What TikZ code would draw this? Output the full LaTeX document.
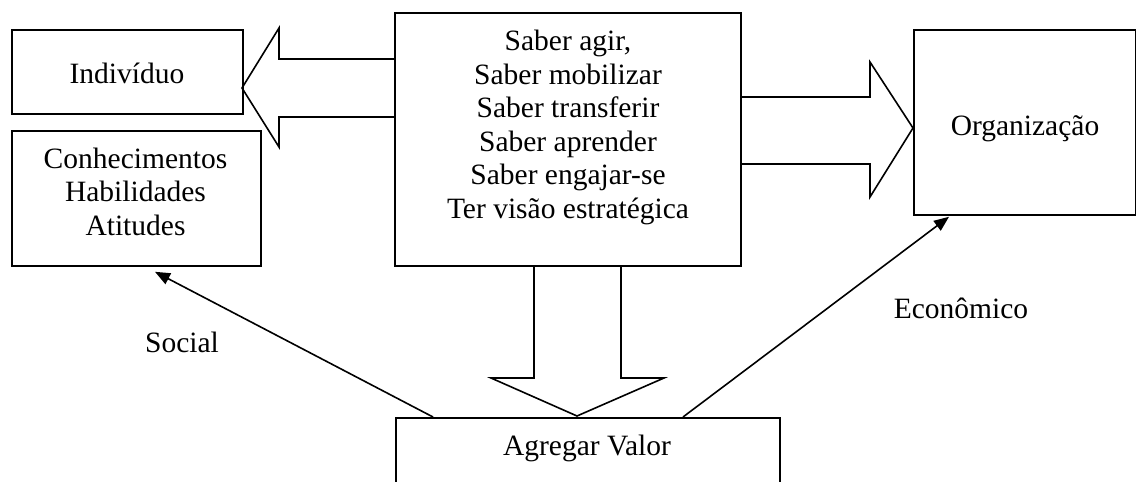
\documentclass[tikz,border=0pt]{standalone}
\usepackage{fontspec}
\setmainfont{Liberation Serif}
\usetikzlibrary{arrows.meta,calc}
\begin{document}
\begin{tikzpicture}[x=1pt,y=-1pt,
  box/.style={draw,line width=1.8pt,rectangle,inner sep=0pt,anchor=north west},
  txt/.style={inner sep=0pt,align=center,font=\fontsize{29.5pt}{33.5pt}\selectfont},
  blockarrow/.style={draw,line width=1.6pt,line join=miter},
  valarrow/.style={line width=1.6pt,-{Triangle[length=15pt,width=12pt]}}]
\useasboundingbox (0,0) rectangle (1136,482);
\clip (0,0) rectangle (1136,482);
% boxes
\node[box,minimum width=231pt,minimum height=84pt] (ind) at (11,29) {};
\node[box,minimum width=249pt,minimum height=135pt] (kha) at (11,130) {};
\node[box,minimum width=346pt,minimum height=253pt] (mid) at (394,12) {};
\node[box,minimum width=222pt,minimum height=185pt] (org) at (913,29) {};
\node[box,minimum width=384pt,minimum height=120pt] (agr) at (395,417) {};
% texts (base anchor = baseline of last line)
\node[txt,anchor=base] (tind) at (127,83) {Indivíduo};
\node[txt,anchor=base] (tkha) at (135.5,235) {Conhecimentos\\Habilidades\\Atitudes};
\node[txt,anchor=base] (tmid) at (568,218) {Saber agir,\\Saber mobilizar\\Saber transferir\\Saber aprender\\Saber engajar-se\\Ter visão estratégica};
\node[txt,anchor=base] (torg) at (1025,135) {Organização};
\node[txt,anchor=base] (tagr) at (587,455) {Agregar Valor};
\node[txt,anchor=base] (tsoc) at (182,352) {Social};
\node[txt,anchor=base] (teco) at (961,318) {Econômico};
% block arrows
\draw[blockarrow] (394,59) -- (279,59) -- (279,28) -- (242,88) -- (279,147) -- (279,117) -- (394,117);
\draw[blockarrow] (740,97) -- (870,97) -- (870,62) -- (913,128) -- (870,197) -- (870,164) -- (740,164);
\draw[blockarrow] (534,265) -- (534,378) -- (491,378) -- (577,416) -- (664,378) -- (621,378) -- (621,265);
% value arrows
\draw[valarrow] ($(agr.north west)+(38,0)$) -- ($(kha.south west)+(144,5)$);
\draw[valarrow] ($(agr.north west)+(288,0)$) -- ($(org.south west)+(36,1)$);
\end{tikzpicture}
\end{document}
